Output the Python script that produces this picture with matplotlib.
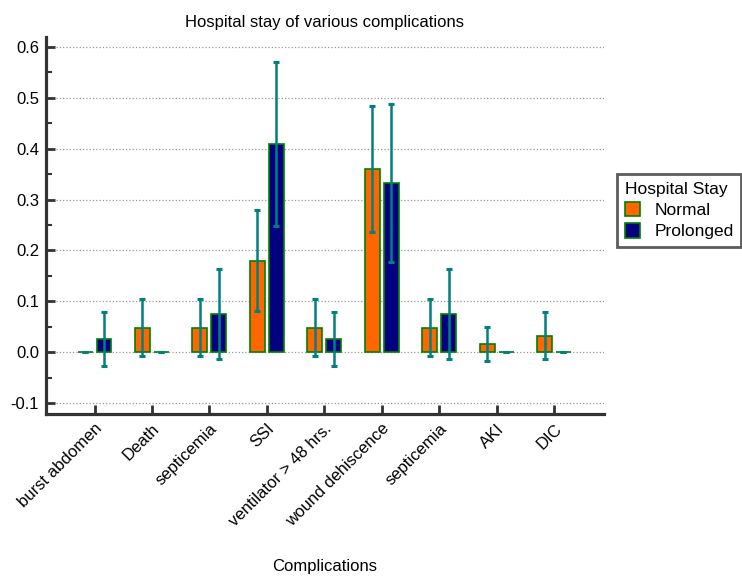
import numpy as np
import matplotlib
matplotlib.use('Agg')
import matplotlib.pyplot as plt

plt.rcParams['font.family'] = ['Liberation Sans', 'DejaVu Sans']

### Data
complications = ['burst abdomen', 'Death', 'septicemia', 'SSI', 'ventilator > 48 hrs.',
                 'wound dehiscence', 'septicemia', 'AKI', 'DIC']
normal = [0.0, 0.048, 0.048, 0.180, 0.048, 0.361, 0.048, 0.016, 0.032]
normal_err = [0.0, 0.056, 0.056, 0.100, 0.056, 0.124, 0.056, 0.033, 0.046]
prolonged = [0.025, 0.0, 0.075, 0.410, 0.025, 0.332, 0.075, 0.0, 0.0]
prolonged_err = [0.053, 0.0, 0.088, 0.161, 0.053, 0.155, 0.088, 0.0, 0.0]

x = np.arange(len(complications))
off = 0.165
w = 0.26

fig = plt.figure(figsize=(7.42, 5.76), dpi=100)
ax = fig.add_axes([0.062, 0.281, 0.752, 0.655])

ekw = dict(fmt='none', ecolor='#008080', elinewidth=1.8, capsize=2.2, capthick=2.2, zorder=4)
ax.bar(x - off, normal, w, color='#FF6600', edgecolor='#008000', linewidth=1.2, label='Normal', zorder=3)
ax.bar(x + off, prolonged, w, color='#000080', edgecolor='#008000', linewidth=1.2, label='Prolonged', zorder=3)
ax.errorbar(x - off, normal, yerr=normal_err, **ekw)
ax.errorbar(x + off, prolonged, yerr=prolonged_err, **ekw)

ax.set_xlim(-0.845, 8.87)
ax.set_ylim(-0.122, 0.62)
ax.set_yticks(np.arange(-0.1, 0.61, 0.1))
ax.set_yticks(np.arange(-0.05, 0.6, 0.1), minor=True)
ax.set_yticklabels(['%.1f' % v for v in np.arange(-0.1, 0.61, 0.1)])
ax.set_xticks(x)
ax.set_xticklabels(complications, rotation=45, ha='right', rotation_mode='anchor')

ax.yaxis.grid(True, linestyle=':', color='#999999', linewidth=0.9, zorder=0)
ax.set_axisbelow(True)
ax.tick_params(axis='both', direction='in', length=6.5, width=2, color='#333333', labelsize=12)
ax.tick_params(axis='y', which='minor', direction='in', length=4.5, width=1.5, color='#333333')
ax.tick_params(axis='y', pad=5)
ax.tick_params(axis='x', pad=5)
for s in ['top', 'right']:
    ax.spines[s].set_visible(False)
for s in ['left', 'bottom']:
    ax.spines[s].set_linewidth(2.3)
    ax.spines[s].set_color('#333333')

ax.set_title('Hospital stay of various complications', fontsize=12, pad=7)
ax.set_xlabel('Complications', fontsize=12)
ax.xaxis.set_label_coords(0.5, -0.385)

leg = ax.legend(title='Hospital Stay', loc='center left', bbox_to_anchor=(1.023, 0.54),
                borderaxespad=0, fontsize=12.5, title_fontsize=12.5, frameon=True, fancybox=False,
                edgecolor='#333333', handlelength=0.9, handleheight=0.9, handletextpad=0.8,
                borderpad=0.45, labelspacing=0.3, alignment='left')
leg.get_frame().set_linewidth(2)

plt.savefig('out.png', dpi=100)
